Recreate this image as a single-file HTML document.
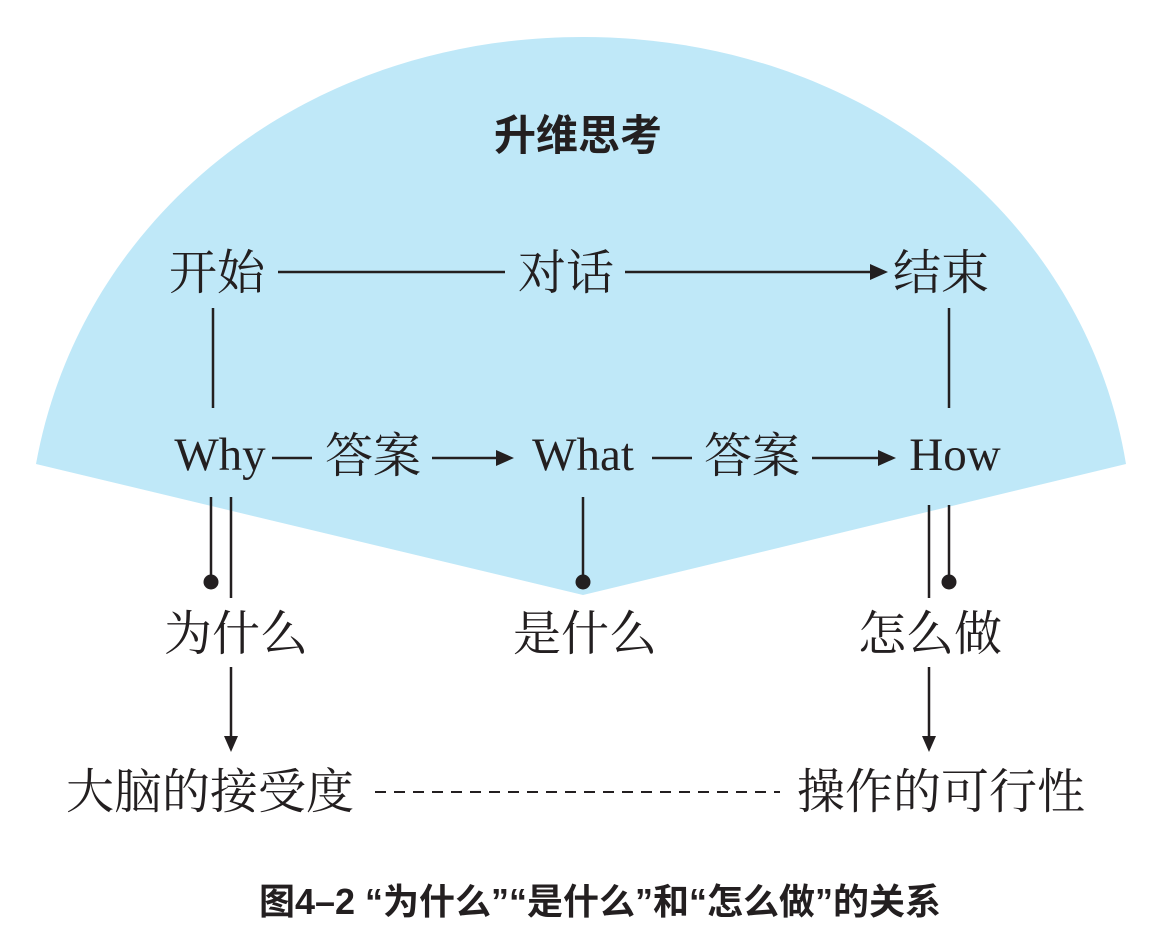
<!DOCTYPE html>
<html><head><meta charset="utf-8"><style>
html,body{margin:0;padding:0;background:#fff;}
svg{display:block;}
.s{font-family:"Liberation Serif","Noto Serif CJK SC",serif;fill:#231f20;}
.b{font-family:"Liberation Sans","Noto Sans CJK SC",sans-serif;font-weight:bold;fill:#231f20;}
</style></head><body>
<svg width="1166" height="940" viewBox="0 0 1166 940" xmlns="http://www.w3.org/2000/svg">
<path d="M583 595 L36 464 C80 220 300 37 583 37 C866 37 1086 220 1126 464 Z" fill="#bfe8f8"/>
<text x="578" y="150" class="b" font-size="42" text-anchor="middle">升维思考</text>

<g class="s" font-size="48">
<text x="217" y="289" text-anchor="middle">开始</text>
<text x="566" y="289" text-anchor="middle">对话</text>
<text x="941" y="289" text-anchor="middle">结束</text>
<text x="373" y="472" text-anchor="middle">答案</text>
<text x="752" y="472" text-anchor="middle">答案</text>
<text x="236" y="650" text-anchor="middle">为什么</text>
<text x="585" y="650" text-anchor="middle">是什么</text>
<text x="930" y="650" text-anchor="middle">怎么做</text>
<text x="210" y="808" text-anchor="middle">大脑的接受度</text>
<text x="941" y="808" text-anchor="middle">操作的可行性</text>
</g>
<g class="s" font-size="47">
<text x="220" y="470" text-anchor="middle">Why</text>
<text x="583" y="470" text-anchor="middle">What</text>
<text x="955" y="470" text-anchor="middle">How</text>
</g>

<g stroke="#231f20" stroke-width="2.5" fill="none">
<line x1="278" y1="272" x2="505" y2="272"/>
<line x1="625" y1="272" x2="872" y2="272"/>
<path d="M870 264 L888 272 L870 280 Z" fill="#231f20" stroke="none"/>
<line x1="213" y1="308" x2="213" y2="408"/>
<line x1="949" y1="308" x2="949" y2="408"/>
<line x1="272" y1="458" x2="312" y2="458"/>
<line x1="432" y1="458" x2="498" y2="458"/>
<path d="M496 450 L514 458 L496 466 Z" fill="#231f20" stroke="none"/>
<line x1="652" y1="458" x2="692" y2="458"/>
<line x1="812" y1="458" x2="880" y2="458"/>
<path d="M878 450 L896 458 L878 466 Z" fill="#231f20" stroke="none"/>
<line x1="211" y1="497" x2="211" y2="580"/>
<line x1="231" y1="497" x2="231" y2="598"/>
<line x1="583" y1="497" x2="583" y2="580"/>
<line x1="929" y1="505" x2="929" y2="598"/>
<line x1="949" y1="505" x2="949" y2="580"/>
<line x1="231" y1="667" x2="231" y2="738"/>
<path d="M224 736 L231 752 L238 736 Z" fill="#231f20" stroke="none"/>
<line x1="929" y1="667" x2="929" y2="738"/>
<path d="M922 736 L929 752 L936 736 Z" fill="#231f20" stroke="none"/>
<line x1="375" y1="792" x2="780" y2="792" stroke-dasharray="11,8" stroke-width="2"/>
</g>
<circle cx="211" cy="582" r="7.5" fill="#231f20"/>
<circle cx="583" cy="582" r="7.5" fill="#231f20"/>
<circle cx="949" cy="582" r="7.5" fill="#231f20"/>

<text x="600" y="914" class="b" font-size="36" text-anchor="middle">图4–2 “为什么”“是什么”和“怎么做”的关系</text>
</svg>
</body></html>
